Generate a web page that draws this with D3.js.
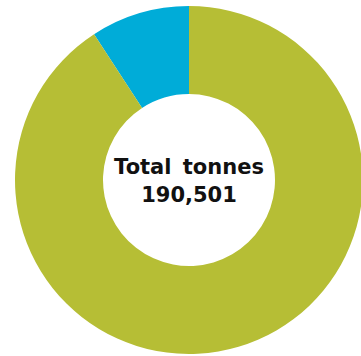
<!DOCTYPE html>
<html><head><meta charset="utf-8">
<script src="https://cdn.jsdelivr.net/npm/d3@7"></script>
<style>html,body{margin:0;padding:0;background:#fff;overflow:hidden}</style>
</head><body>
<svg id="chart" width="361" height="356"></svg>
<script>
const categories = ["Other", "Main"];
const values = [17500, 173001];
const colors = ["#00acd8", "#b6be35"];
const totalLabel = "Total tonnes";
const totalValue = "190,501";

const svg = d3.select("#chart");
const cx = 189, cy = 180, outerR = 174, innerR = 86;
const g = svg.append("g").attr("transform", `translate(${cx},${cy})`);

const pie = d3.pie().sort(null).value(d => d.v)
  .startAngle(0).endAngle(-2 * Math.PI);
const data = categories.map((c, i) => ({c, v: values[i], col: colors[i]}));
const arc = d3.arc().innerRadius(innerR).outerRadius(outerR);

g.selectAll("path").data(pie(data)).join("path")
  .attr("d", arc).attr("fill", d => d.data.col);

const font = "'DejaVu Sans', sans-serif";
const t1 = g.append("text").attr("text-anchor", "middle").attr("y", -6)
  .attr("font-family", font).attr("font-weight", 700)
  .attr("font-size", 21).attr("fill", "#111").attr("word-spacing", 4).text(totalLabel);
const t2 = g.append("text").attr("text-anchor", "middle").attr("y", 22)
  .attr("font-family", font).attr("font-weight", 700)
  .attr("font-size", 21).attr("fill", "#111").text(totalValue);
</script>
</body></html>
